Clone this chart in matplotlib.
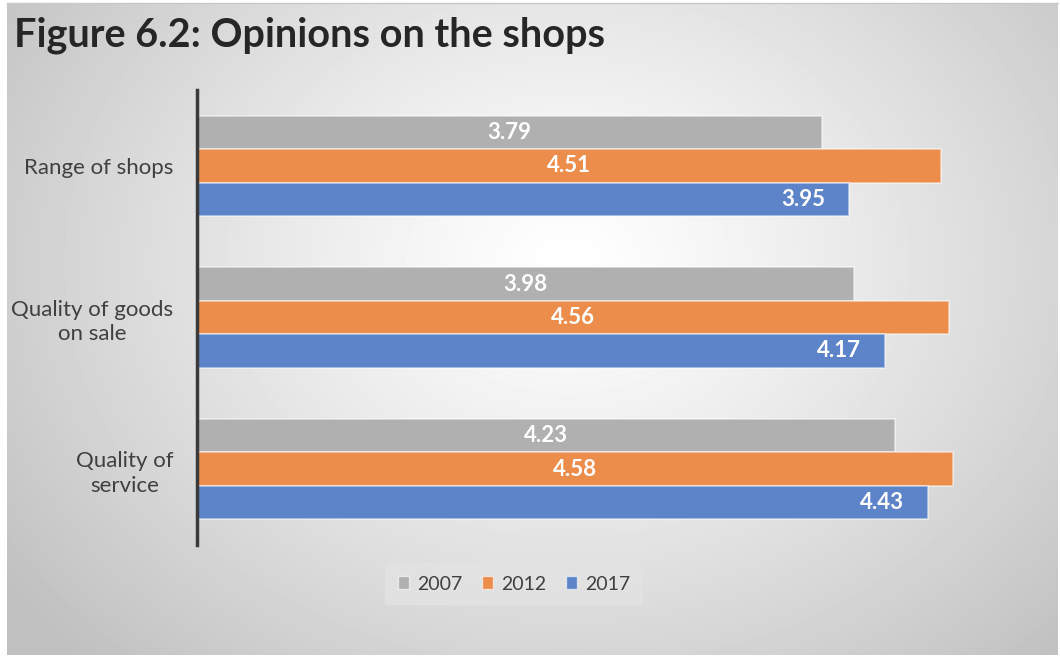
import numpy as np
import matplotlib
matplotlib.use("Agg")
import matplotlib.pyplot as plt
from matplotlib.patches import Patch

# --- data ---
categories = ["Range of shops", "Quality of goods\non sale", "Quality of\nservice"]
years = ["2007", "2012", "2017"]
scores_2007 = [3.79, 3.98, 4.23]
scores_2012 = [4.51, 4.56, 4.58]
scores_2017 = [3.95, 4.17, 4.43]

colors = ["#b0b0b0", "#ed8d4b", "#5d84c9"]
FONT = "Lato"

W, H = 1060, 659
fig = plt.figure(figsize=(W / 100, H / 100), dpi=100)
fig.patch.set_facecolor("white")

# radial gradient panel behind the chart
bg = fig.add_axes([7 / W, 4 / H, 1051 / W, 651 / H])
yy, xx = np.mgrid[0:651, 0:1051]
cx, cy = 560, 260
r = np.sqrt(((xx - cx) / 700.0) ** 2 + ((yy - cy) / 560.0) ** 2)
r = np.clip(r, 0, 1)
shade = 1.0 - 0.25 * r ** 1.2
bg.imshow(shade, cmap="gray", vmin=0, vmax=1, aspect="auto", interpolation="bilinear")
bg.set_axis_off()

fig.add_artist(plt.Line2D([7 / W, 1058 / W], [1 - 3 / H, 1 - 3 / H], color="#c8c8c8", lw=1))

fig.text(14 / W, 1 - 35 / H, "Figure 6.2: Opinions on the shops", fontsize=28.5,
         fontweight="bold", color="#262626", family=FONT, va="center", ha="left")

ax = fig.add_axes([197 / W, 1 - 545 / H, 825 / W, 455 / H])
ax.patch.set_alpha(0)

ypos = np.arange(len(categories))
h = 0.22
series = [scores_2007, scores_2012, scores_2017]
offsets = [-h, 0, h]
label_style = dict(color="white", fontsize=16, fontweight="bold", family=FONT)
for vals, off, col, yr in zip(series, offsets, colors, years):
    bars = ax.barh(ypos + off, vals, height=h, color=col, edgecolor=(1, 1, 1, 0.55),
                   linewidth=1.2, label=yr)
    if yr == "2017":
        # inside-end labels
        for y, v in zip(ypos + off, vals):
            ax.annotate(f"{v:.2f}", (v, y), xytext=(-17, 0), textcoords="offset points",
                        ha="right", va="center", **label_style)
    else:
        ax.bar_label(bars, labels=[f"{v:.2f}" for v in vals], label_type="center",
                     **label_style)

ax.set_xlim(0, 5)
ax.set_ylim(2.5, -0.5)
ax.set_xticks([])
ax.set_yticks(ypos)
ax.set_yticklabels(categories, fontsize=16, color="#404040", family=FONT,
                   multialignment="center", linespacing=1.3)
ax.tick_params(axis="y", length=0, pad=17)
for s in ["top", "right", "bottom"]:
    ax.spines[s].set_visible(False)
ax.spines["left"].set_color("#3a3a3a")
ax.spines["left"].set_linewidth(2.5)

handles = [Patch(facecolor=c, edgecolor=(1, 1, 1, 0.6), label=y) for c, y in zip(colors, years)]
leg = fig.legend(handles=handles, loc="center", bbox_to_anchor=(514 / W, 1 - 584 / H),
                 ncol=3, frameon=True, handlelength=0.6, handleheight=0.6,
                 handletextpad=0.4, columnspacing=1.0, borderpad=0.65, fancybox=False,
                 prop={"family": FONT, "size": 14})
leg.get_frame().set_facecolor("#e3e3e3")
leg.get_frame().set_edgecolor("none")
for t in leg.get_texts():
    t.set_color("#404040")

fig.savefig("out.png", dpi=100)
